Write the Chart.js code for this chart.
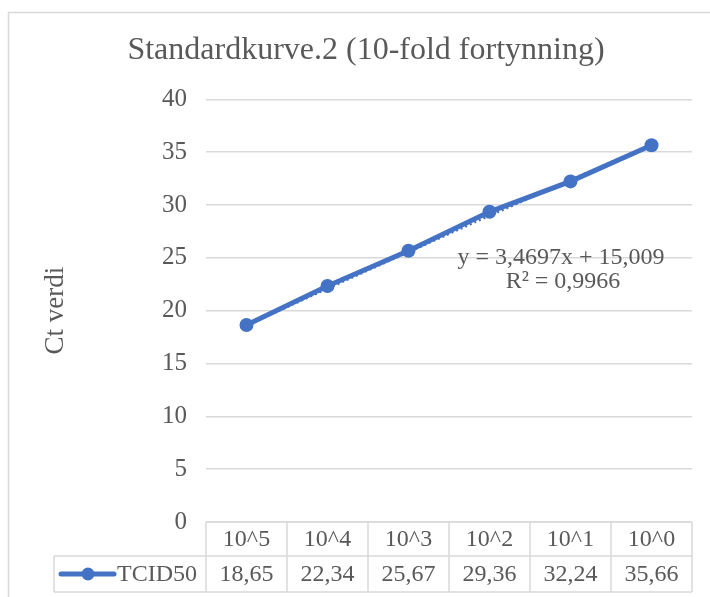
<!DOCTYPE html>
<html>
<head>
<meta charset="utf-8">
<script src="https://cdn.jsdelivr.net/npm/chart.js@4.4.0/dist/chart.umd.min.js"></script>
<style>
  html, body { margin: 0; padding: 0; background: #fff; }
  #wrap { width: 710px; height: 597px; position: relative; }
</style>
</head>
<body>
<div id="wrap"><canvas id="curveChart"></canvas></div>
<script>
const categories = ['10^5', '10^4', '10^3', '10^2', '10^1', '10^0'];
const ctValues = [18.65, 22.34, 25.67, 29.36, 32.24, 35.66];
// dotted trendline (mostly hidden under the series)
const trendValues = [18.6, 22.1, 25.55, 29.0, 32.35, 35.75];
const seriesName = 'TCID50';
const equationLines = ['y = 3,4697x + 15,009', 'R\u00b2 = 0,9966'];

const lineColor = '#4472c4';
const textColor = '#595959';
const gridColor = '#d9d9d9';
const fontFamily = "'Liberation Serif', 'Times New Roman', serif";

const fmt = (v) => v.toFixed(2).replace('.', ',');

const frameBg = {
  id: 'frameBg',
  beforeDraw(chart) {
    const { ctx } = chart;
    ctx.save();
    ctx.fillStyle = '#fff';
    ctx.fillRect(0, 0, chart.width, chart.height);
    ctx.strokeStyle = gridColor;
    ctx.lineWidth = 1.5;
    ctx.strokeRect(8.5, 12.5, 740, 640);
    ctx.restore();
  }
};

const dataTable = {
  id: 'dataTable',
  afterDraw(chart) {
    const { ctx, chartArea } = chart;
    const x = chart.scales.x;
    const colW = chartArea.width / categories.length;
    const top = chartArea.bottom;
    const mid = top + 34;
    const bottom = mid + 36;
    const legendLeft = 54;
    ctx.save();
    ctx.strokeStyle = gridColor;
    ctx.lineWidth = 1.5;
    ctx.beginPath();
    ctx.moveTo(chartArea.left, top);
    ctx.lineTo(chartArea.right, top);
    ctx.moveTo(legendLeft, mid);
    ctx.lineTo(chartArea.right, mid);
    ctx.moveTo(legendLeft, bottom);
    ctx.lineTo(chartArea.right, bottom);
    ctx.moveTo(legendLeft, mid);
    ctx.lineTo(legendLeft, bottom);
    for (let i = 0; i <= categories.length; i++) {
      const gx = chartArea.left + i * colW;
      ctx.moveTo(gx, top);
      ctx.lineTo(gx, bottom);
    }
    ctx.stroke();

    ctx.fillStyle = textColor;
    ctx.font = '24px ' + fontFamily;
    ctx.textAlign = 'center';
    ctx.textBaseline = 'middle';
    categories.forEach((c, i) => {
      const cx = x.getPixelForValue(i);
      ctx.fillText(c, cx, (top + mid) / 2 + 1);
      ctx.fillText(fmt(ctValues[i]), cx, (mid + bottom) / 2 + 1);
    });

    // legend key
    const ky = (mid + bottom) / 2;
    ctx.strokeStyle = lineColor;
    ctx.lineWidth = 5;
    ctx.lineCap = 'round';
    ctx.beginPath();
    ctx.moveTo(61, ky);
    ctx.lineTo(114, ky);
    ctx.stroke();
    ctx.fillStyle = lineColor;
    ctx.beginPath();
    ctx.arc(88, ky, 6.5, 0, Math.PI * 2);
    ctx.fill();
    ctx.fillStyle = textColor;
    ctx.textAlign = 'left';
    ctx.fillText(seriesName, 117, ky + 1);

    // trendline equation
    ctx.font = '24px ' + fontFamily;
    ctx.textAlign = 'center';
    ctx.fillText(equationLines[0], 561, 258);
    ctx.fillText(equationLines[1], 563, 282);
    ctx.restore();
  }
};

new Chart(document.getElementById('curveChart'), {
  type: 'line',
  data: {
    labels: categories,
    datasets: [
      {
        label: seriesName,
        data: ctValues,
        borderColor: lineColor,
        backgroundColor: lineColor,
        borderWidth: 5,
        pointRadius: 7,
        pointBorderWidth: 0,
        tension: 0,
        fill: false,
        order: 1
      },
      {
        label: 'Linear',
        data: trendValues,
        borderColor: lineColor,
        borderWidth: 2.5,
        borderDash: [2, 3],
        pointRadius: 0,
        tension: 0,
        fill: false,
        order: 2
      }
    ]
  },
  options: {
    responsive: true,
    maintainAspectRatio: false,
    animation: false,
    layout: { padding: { left: 40, right: 18, top: 0, bottom: 75 } },
    plugins: {
      legend: { display: false },
      tooltip: { enabled: false },
      title: {
        display: true,
        text: 'Standardkurve.2 (10-fold fortynning)',
        color: textColor,
        font: { family: fontFamily, size: 32, weight: 'normal' },
        padding: { top: 31, bottom: 30 }
      }
    },
    scales: {
      x: {
        display: false,
        offset: true
      },
      y: {
        min: 0,
        max: 40,
        border: { display: false },
        grid: { color: gridColor, lineWidth: 1.5, drawTicks: false },
        ticks: {
          stepSize: 5,
          padding: 19,
          color: textColor,
          font: { family: fontFamily, size: 25 }
        },
        title: {
          display: true,
          text: 'Ct verdi',
          color: textColor,
          padding: 0,
          font: { family: fontFamily, size: 27 }
        },
        afterFit(axis) {
          axis.width = 166;
        }
      }
    }
  },
  plugins: [frameBg, dataTable]
});
</script>
</body>
</html>
